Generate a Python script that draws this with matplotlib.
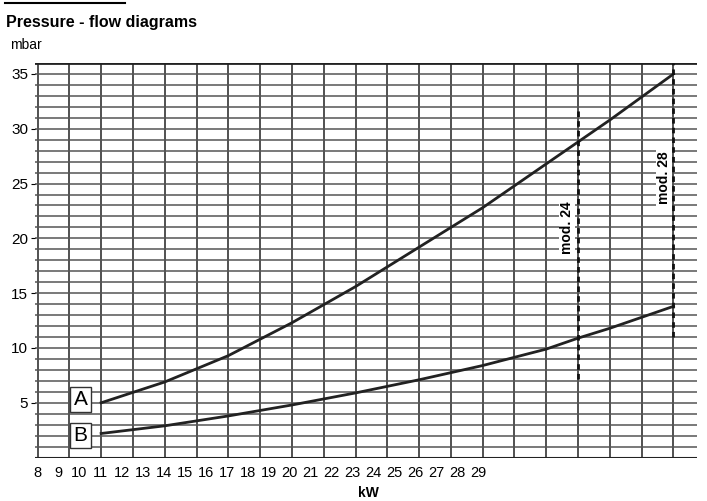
import matplotlib
matplotlib.use("Agg")
import matplotlib.pyplot as plt
import numpy as np

# positions in grid-column units
x_pts = [2, 4, 6, 8, 10, 12, 14, 16, 17, 18, 20]
curve_a = [5.0, 6.9, 9.3, 12.3, 15.6, 19.2, 22.8, 26.8, 28.8, 30.8, 35.0]
curve_b = [2.2, 2.9, 3.8, 4.8, 5.9, 7.1, 8.4, 9.9, 10.9, 11.8, 13.8]
tick_labels = [str(v) for v in range(8, 30)]
yticks = [5, 10, 15, 20, 25, 30, 35]
mod_x = [17, 20]
mod_labels = ["mod. 24", "mod. 28"]

fig = plt.figure(figsize=(7.07, 5.01), dpi=100)
L, R = 35/707, 697/707
B, T = (501-457.6)/501, (501-63)/501
ax = fig.add_axes([L, B, R-L, T-B])
ax.set_xlim(-0.08, 20.74)
ax.set_ylim(0, 36)
for i in range(0, 21):
    ax.axvline(i, color="#222222", lw=1.1, zorder=1)
for j in range(1, 36):
    ax.axhline(j, color="#555555", lw=1.1, zorder=1)
for s in ax.spines.values():
    s.set_visible(False)
ax.axhline(36, color="#222222", lw=2, zorder=1)
ax.axhline(0, color="#222222", lw=1.5, zorder=1)

ax.plot(x_pts, curve_a, color="#222222", lw=2, zorder=3)
ax.plot(x_pts, curve_b, color="#222222", lw=2, zorder=3)

ax.plot([mod_x[0]]*2, [7.2, 32.0], ls=(0, (2, 1.5)), color="#111111", lw=2, zorder=3)
ax.plot([mod_x[1]]*2, [11.0, 36], ls=(0, (2, 1.5)), color="#111111", lw=2, zorder=3)
ax.text(mod_x[0]-0.35, 21, mod_labels[0], rotation=90, ha="center", va="center",
        fontsize=10, fontweight="bold", family="Liberation Sans",
        bbox=dict(fc="white", ec="none", pad=1), zorder=4)
ax.text(mod_x[1]-0.3, 25.5, mod_labels[1], rotation=90, ha="center", va="center",
        fontsize=10, fontweight="bold", family="Liberation Sans",
        bbox=dict(fc="white", ec="none", pad=1), zorder=4)

for lab, yv in [("A", 5.3), ("B", 2.0)]:
    ax.text(1.35, yv, lab, ha="center", va="center", fontsize=15, family="Liberation Sans",
            bbox=dict(fc="white", ec="#333333", lw=1, boxstyle="square,pad=0.15"), zorder=5)

ax.set_yticks(yticks)
ax.set_yticklabels([str(v) for v in yticks], fontsize=11, family="Liberation Sans")
ax.tick_params(axis="y", length=3, pad=2)
ax.set_xticks([i*21/31.8 for i in range(len(tick_labels))])
ax.set_xticklabels(tick_labels, fontsize=10.5, family="Liberation Sans")
ax.tick_params(axis="x", length=0, pad=6)
ax.set_xlabel("kW", fontsize=10, fontweight="bold", family="Liberation Sans")
ax.xaxis.set_label_coords((368-35)/(697-35), -0.072)

fig.text(6/707, 1-22/501, "Pressure - flow diagrams", fontsize=11.5, fontweight="bold",
         family="Liberation Sans", va="center")
fig.text(10/707, 1-45/501, "mbar", fontsize=10, family="Liberation Sans", va="center")
fig.add_artist(plt.Line2D([5/707, 125/707], [1-3/501]*2, color="black", lw=1.5))
fig.savefig("out.png", dpi=100)
